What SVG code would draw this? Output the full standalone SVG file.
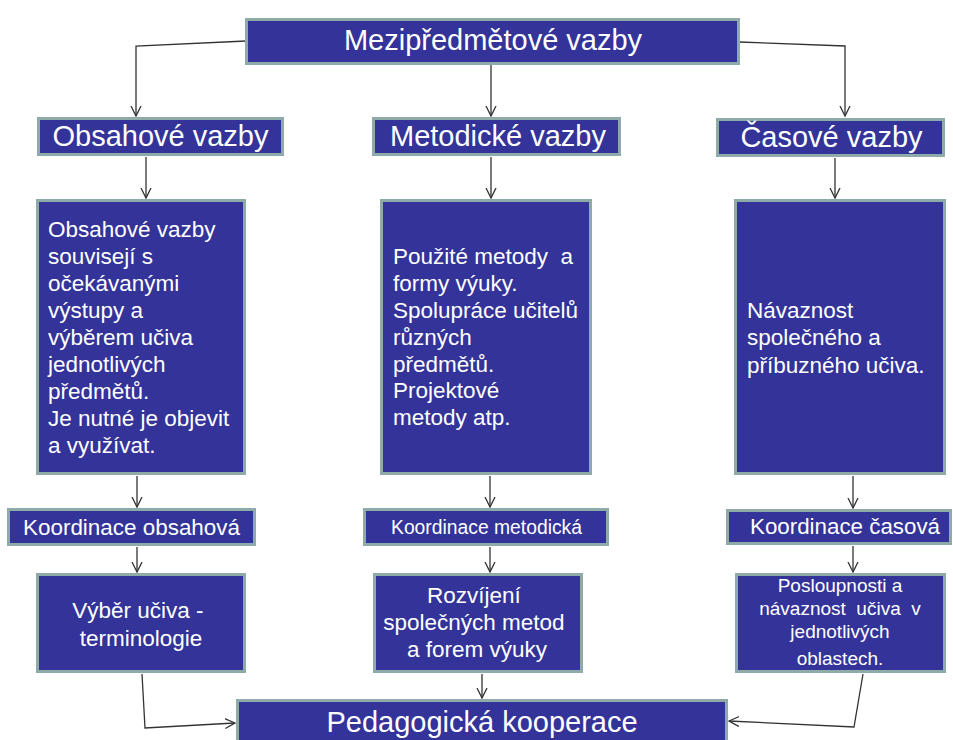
<svg xmlns="http://www.w3.org/2000/svg" width="953" height="740" viewBox="0 0 953 740">
<style>
.box{fill:#333399;stroke:#8eaaa9;stroke-width:3}
.t{fill:#ffffff;font-family:"Liberation Sans",Arial,sans-serif}
.c{text-anchor:middle}
.edge{fill:none;stroke:#333333;stroke-width:1.3}
</style>
<defs>
<marker id="arr" markerUnits="userSpaceOnUse" markerWidth="12" markerHeight="12" refX="10" refY="5" orient="auto" viewBox="0 0 12 10">
<path d="M0,0 L10,5 L0,10" fill="none" stroke="#333333" stroke-width="1.3"/>
</marker>
</defs>
<rect width="953" height="740" fill="#ffffff"/>
<g id="connectors">
<polyline class="edge" points="246,41 136,46 136,116" marker-end="url(#arr)"/>
<polyline class="edge" points="491,65 491,116" marker-end="url(#arr)"/>
<polyline class="edge" points="739,42 845,46 845,116" marker-end="url(#arr)"/>
<polyline class="edge" points="146,157 146,198" marker-end="url(#arr)"/>
<polyline class="edge" points="491,157 491,198" marker-end="url(#arr)"/>
<polyline class="edge" points="835,158 835,198" marker-end="url(#arr)"/>
<polyline class="edge" points="137,476 137,507" marker-end="url(#arr)"/>
<polyline class="edge" points="490,476 490,507" marker-end="url(#arr)"/>
<polyline class="edge" points="853,476 853,508" marker-end="url(#arr)"/>
<polyline class="edge" points="137,547 137,572" marker-end="url(#arr)"/>
<polyline class="edge" points="490,547 490,572" marker-end="url(#arr)"/>
<polyline class="edge" points="853,546 853,572" marker-end="url(#arr)"/>
<polyline class="edge" points="142,674 145,728 235,723" marker-end="url(#arr)"/>
<polyline class="edge" points="482,674 482,698" marker-end="url(#arr)"/>
<polyline class="edge" points="863,674 854,727 729,721" marker-end="url(#arr)"/>
</g>
<g id="n-mezi">
<rect class="box" x="246.5" y="19.5" width="492" height="44"/>
<text class="t c" x="493" y="50" font-size="29">Mezipředmětové vazby</text>
</g>
<g id="n-obsahove">
<rect class="box" x="38.5" y="118.5" width="244" height="36"/>
<text class="t c" x="160.5" y="146" font-size="29">Obsahové vazby</text>
</g>
<g id="n-metodicke">
<rect class="box" x="373.5" y="118.5" width="246" height="36"/>
<text class="t c" x="498" y="146" font-size="29">Metodické vazby</text>
</g>
<g id="n-casove">
<rect class="box" x="717.5" y="119.5" width="226" height="36"/>
<text class="t c" x="831.5" y="147" font-size="29">Časové vazby</text>
</g>
<g id="n-obsah-popis">
<rect class="box" x="37.5" y="200.5" width="207" height="273"/>
<text class="t" x="48" font-size="22.5">
<tspan x="48" y="237">Obsahové vazby</tspan>
<tspan x="48" y="264">souvisejí s</tspan>
<tspan x="48" y="291">očekávanými</tspan>
<tspan x="48" y="318">výstupy a</tspan>
<tspan x="48" y="345">výběrem učiva</tspan>
<tspan x="48" y="372">jednotlivých</tspan>
<tspan x="48" y="399">předmětů.</tspan>
<tspan x="48" y="426">Je nutné je objevit</tspan>
<tspan x="48" y="453">a využívat.</tspan>
</text>
</g>
<g id="n-metod-popis">
<rect class="box" x="381.5" y="200.5" width="209" height="273"/>
<text class="t" x="393" font-size="22.5" xml:space="preserve"><tspan x="393" y="264">Použité metody  a</tspan><tspan x="393" y="291">formy výuky.</tspan><tspan x="393" y="318">Spolupráce učitelů</tspan><tspan x="393" y="345">různých</tspan><tspan x="393" y="372">předmětů.</tspan><tspan x="393" y="398">Projektové</tspan><tspan x="393" y="425">metody atp.</tspan></text>
</g>
<g id="n-cas-popis">
<rect class="box" x="735.5" y="200.5" width="209" height="273"/>
<text class="t" x="747" font-size="22.5">
<tspan x="747" y="318">Návaznost</tspan>
<tspan x="747" y="345">společného a</tspan>
<tspan x="747" y="373">příbuzného učiva.</tspan>
</text>
</g>
<g id="n-koord-obsah">
<rect class="box" x="8.5" y="509.5" width="246" height="35"/>
<text class="t" x="23" y="535" font-size="22" textLength="217" lengthAdjust="spacingAndGlyphs">Koordinace obsahová</text>
</g>
<g id="n-koord-metod">
<rect class="box" x="364.5" y="509.5" width="243" height="35"/>
<text class="t" x="391" y="534" font-size="19.3" textLength="191" lengthAdjust="spacingAndGlyphs">Koordinace metodická</text>
</g>
<g id="n-koord-cas">
<rect class="box" x="727.5" y="510.5" width="223" height="33"/>
<text class="t" x="750" y="534" font-size="22" textLength="190" lengthAdjust="spacingAndGlyphs">Koordinace časová</text>
</g>
<g id="n-vyber">
<rect class="box" x="37.5" y="574.5" width="207" height="97"/>
<text class="t c" font-size="22.5">
<tspan x="141" y="618">Výběr učiva -</tspan>
<tspan x="141" y="646">terminologie</tspan>
</text>
</g>
<g id="n-rozvijeni">
<rect class="box" x="374.5" y="574.5" width="207" height="97"/>
<text class="t c" font-size="22.5">
<tspan x="477" y="603">Rozvíjení</tspan>
<tspan x="477" y="630">společných metod</tspan>
<tspan x="477" y="657">a forem výuky</tspan>
</text>
</g>
<g id="n-posloupnosti">
<rect class="box" x="736.5" y="574.5" width="208" height="97"/>
<text class="t c" font-size="19" xml:space="preserve"><tspan x="840" y="592">Posloupnosti a</tspan><tspan x="840" y="615">návaznost  učiva  v</tspan><tspan x="840" y="638">jednotlivých</tspan><tspan x="840" y="665">oblastech.</tspan></text>
</g>
<g id="n-pedagogicka">
<rect class="box" x="237.5" y="700.5" width="489" height="60"/>
<text class="t c" x="482" y="732" font-size="29">Pedagogická kooperace</text>
</g>
</svg>
